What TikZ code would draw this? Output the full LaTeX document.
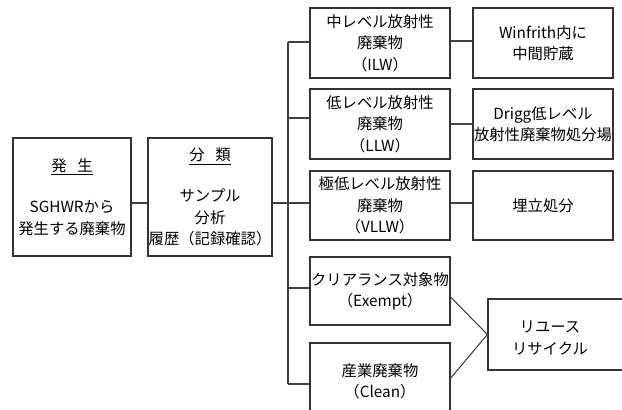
\documentclass[tikz,border=0pt]{standalone}
\usepackage{fontspec}
\newfontfamily\jp{Noto Sans CJK JP}
\begin{document}
\begin{tikzpicture}[x=0.75pt,y=-0.75pt,
  box/.style={draw=black!80, line width=0.9pt, inner sep=0pt, align=center,
    font=\jp\fontsize{11.5}{16}\selectfont},
  midbox/.style={box, minimum width=105pt},
  lbl/.style={inner sep=0pt, align=center, font=\jp\fontsize{11.5}{16}\selectfont},
  conn/.style={draw=black!75, line width=0.8pt}]
\clip (0,0) rectangle (622,410);
\fill[white] (0,0) rectangle (622,410);
% left boxes
\node[box, minimum width=88.5pt, minimum height=88.5pt] (gen) at (72,197)
  {\underline{発\hspace{0.7em}生}\\[15pt]SGHWRから\\発生する廃棄物};
\node[box, minimum width=93pt, minimum height=88.5pt] (cls) at (210,197)
  {\underline{分\hspace{0.7em}類}\\[15pt]サンプル\\分析\\履歴（記録確認）};
% middle boxes
\node[midbox, minimum height=52.5pt] (m1) at (380,43) {中レベル放射性\\廃棄物\\（ILW）};
\node[midbox, minimum height=52.5pt] (m2) at (380,124) {低レベル放射性\\廃棄物\\（LLW）};
\node[midbox, minimum height=51.75pt] (m3) at (380,205.5) {極低レベル放射性\\廃棄物\\（VLLW）};
\node[midbox, minimum height=51pt] (m4) at (380,291) {クリアランス対象物\\（Exempt）};
\node[midbox, minimum height=57.75pt] (m5) at (380,381.5) {};
\node[lbl] (m5t) at (380,381) {産業廃棄物\\（Clean）};
% right boxes
\node[midbox, minimum height=52.5pt] (r1) at (543,43) {Winfrith内に\\中間貯蔵};
\node[midbox, minimum height=52.5pt] (r2) at (543,124) {Drigg低レベル\\放射性廃棄物処分場};
\node[midbox, minimum height=51.75pt] (r3) at (543,205.5) {埋立処分};
\node[box, minimum width=114pt, minimum height=53.25pt] (ru) at (564,334.5) {};
\node[lbl] (rut) at (550,338) {リユース\\リサイクル};
% connectors
\coordinate (b1) at (288,42);
\coordinate (b3) at (288,203);
\coordinate (b2) at (288,118);
\coordinate (b4) at (288,288);
\coordinate (b5) at (288,384);
\draw[conn] (gen.east |- b3) -- (cls.west |- b3);
\draw[conn] (cls.east |- b3) -- (b3);
\draw[conn] (b1) -- (b5);
\draw[conn] (b1) -- (m1.west |- b1);
\draw[conn] (b2) -- (m2.west |- b2);
\draw[conn] (b3) -- (m3.west |- b3);
\draw[conn] (b4) -- (m4.west |- b4);
\draw[conn] (b5) -- (m5.west |- b5);
\draw[conn] ([yshift=1.5pt]m1.east) -- ([yshift=1.5pt]r1.west);
\draw[conn] (m2.east) -- (r2.west);
\draw[conn] (m3.east |- b3) -- (r3.west |- b3);
\draw[conn] ([yshift=-4.5pt]m4.east) -- (ru.west);
\draw[conn] ([yshift=2.5pt]m5.east) -- (ru.west);
\end{tikzpicture}
\end{document}
